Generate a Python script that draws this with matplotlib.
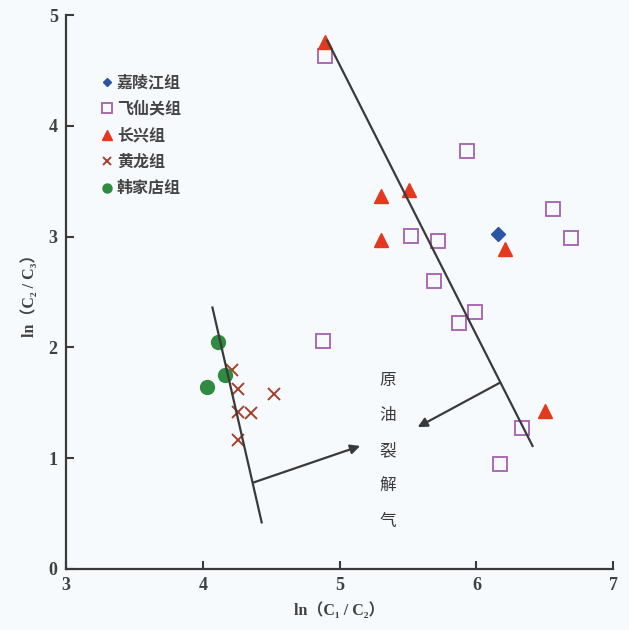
import matplotlib
matplotlib.use("Agg")
from matplotlib import pyplot as plt

plt.rcParams['font.family'] = ['Liberation Serif', 'Noto Sans CJK SC', 'DejaVu Sans']

# data
jialingjiang_x = [6.16]
jialingjiang_y = [3.02]

feixianguan_x = [4.89, 5.93, 6.56, 6.69, 5.52, 5.72, 5.69, 5.87, 5.99, 4.88, 6.33, 6.17]
feixianguan_y = [4.63, 3.77, 3.25, 2.99, 3.01, 2.96, 2.60, 2.22, 2.32, 2.06, 1.27, 0.95]

changxing_x = [4.89, 5.30, 5.51, 5.30, 6.21, 6.50]
changxing_y = [4.76, 3.37, 3.42, 2.97, 2.89, 1.43]

huanglong_x = [4.21, 4.26, 4.26, 4.35, 4.26, 4.52]
huanglong_y = [1.80, 1.62, 1.42, 1.41, 1.16, 1.58]

hanjiadian_x = [4.11, 4.16, 4.03]
hanjiadian_y = [2.05, 1.75, 1.64]

left_line_x = [4.07, 4.43]
left_line_y = [2.36, 0.42]
right_line_x = [4.91, 6.41]
right_line_y = [4.77, 1.11]

left_arrow = ((4.37, 0.78), (5.15, 1.11))
right_arrow = ((6.17, 1.68), (5.57, 1.28))

BG = '#f7fafc'
INK = '#3a3a3a'


def main():
    fig = plt.figure(figsize=(6.29, 6.30), dpi=100, facecolor=BG)
    ax = fig.add_axes([0.105, 0.097, 0.870, 0.879], facecolor=BG)

    ax.plot(jialingjiang_x, jialingjiang_y, 'D', color='#2c55a5', ms=7,
            ls='none', label='嘉陵江组')
    ax.plot(feixianguan_x, feixianguan_y, 's', mfc='none', mec='#a45fae',
            mew=1.3, ms=10, ls='none', label='飞仙关组')
    ax.plot(changxing_x, changxing_y, '^', color='#e2391f', ms=10,
            ls='none', label='长兴组')
    ax.plot(huanglong_x, huanglong_y, 'x', color='#a3412d', mew=1.4, ms=9,
            ls='none', label='黄龙组')
    ax.plot(hanjiadian_x, hanjiadian_y, 'o', color='#2e8b3f', ms=10,
            ls='none', label='韩家店组')

    ax.plot(left_line_x, left_line_y, color=INK, lw=1.6)
    ax.plot(right_line_x, right_line_y, color=INK, lw=1.6)
    for start, end in (left_arrow, right_arrow):
        ax.annotate('', xy=end, xytext=start,
                    arrowprops=dict(arrowstyle='-|>', color=INK, lw=1.6,
                                    mutation_scale=14, shrinkA=0, shrinkB=0))

    ax.text(5.35, 1.78, '\n'.join('原油裂解气'), ha='center', va='top',
            fontsize=12, color=INK, linespacing=2.4,
            family=['Noto Sans CJK SC'])

    leg = ax.legend(loc='upper left', bbox_to_anchor=(0.055, 0.905), frameon=False,
                    prop={'family': ['Noto Sans CJK SC'], 'size': 11.5, 'weight': 'bold'},
                    handlelength=0.6, handletextpad=0.3, labelspacing=0.66,
                    markerscale=0.65, borderaxespad=0)
    for t in leg.get_texts():
        t.set_color('#454545')

    ax.set_xlim(3, 7)
    ax.set_ylim(0, 5)
    ax.set_xticks([3, 4, 5, 6, 7])
    ax.set_yticks([0, 1, 2, 3, 4, 5])
    ax.spines['top'].set_visible(False)
    ax.spines['right'].set_visible(False)
    for s in ('left', 'bottom'):
        ax.spines[s].set_color(INK)
        ax.spines[s].set_linewidth(1.6)
    ax.tick_params(direction='in', length=6, width=1.5, color=INK,
                   labelsize=13, labelcolor='#404040', pad=6)
    for lbl in ax.get_xticklabels() + ax.get_yticklabels():
        lbl.set_fontweight('bold')

    ax.set_xlabel('ln（C₁ / C₂）', fontsize=11.5,
                  fontweight='bold', color='#404040', labelpad=6)
    ax.set_ylabel('ln（C₂ / C₃）', fontsize=11.5,
                  fontweight='bold', color='#404040', labelpad=8)

    fig.savefig('out.png', dpi=100, facecolor=BG)


if __name__ == "__main__":
    main()
